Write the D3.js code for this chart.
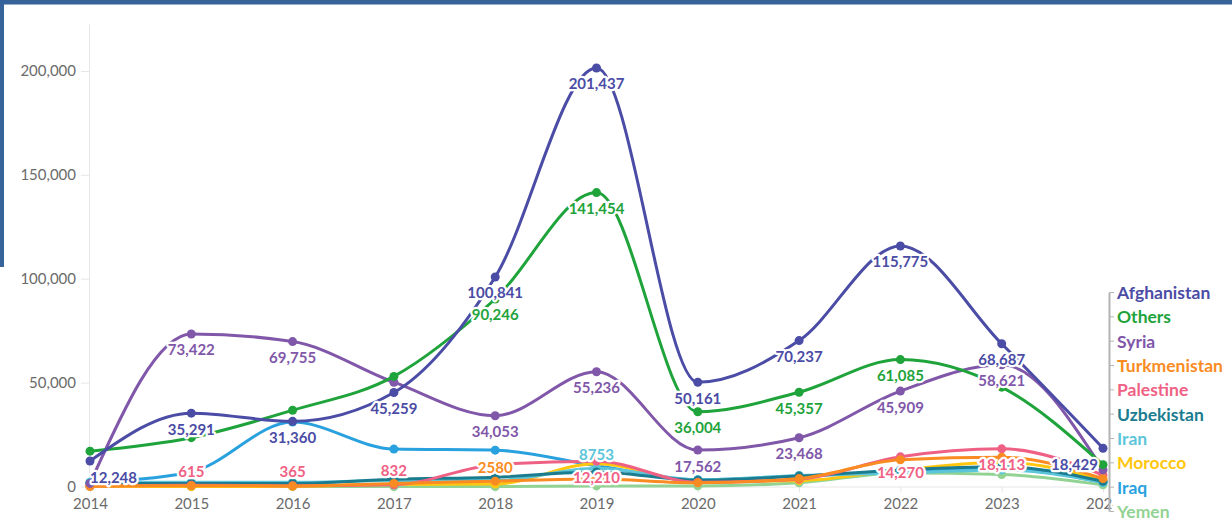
<!DOCTYPE html>
<html>
<head>
<meta charset="utf-8">
<script src="https://cdn.jsdelivr.net/npm/d3@7"></script>
<style>
  html, body { margin: 0; padding: 0; background: #fff; }
  svg { display: block; font-family: Lato, "Open Sans", sans-serif; }
</style>
</head>
<body>
<svg id="chart" width="1232" height="521"></svg>
<script>
// Yearly figures per nationality
const years = [2014, 2015, 2016, 2017, 2018, 2019, 2020, 2021, 2022, 2023, 2024];

const afghanistan  = [12248, 35291, 31360, 45259, 100841, 201437, 50161, 70237, 115775, 68687, 18429];
const others       = [17000, 23500, 36700, 53000, 90246, 141454, 36004, 45357, 61085, 47800, 10500];
const syria        = [1500, 73422, 69755, 50200, 34053, 55236, 17562, 23468, 45909, 58621, 8000];
const turkmenistan = [300, 400, 300, 1500, 2580, 3600, 1800, 3800, 12900, 14100, 3800];
const palestine    = [200, 615, 365, 832, 10500, 12210, 2000, 3500, 14270, 18113, 5500];
const uzbekistan   = [1500, 1500, 1500, 3500, 4500, 7000, 3000, 5000, 8000, 9500, 2500];
const iran         = [2000, 2000, 2000, 2900, 2900, 8753, 3200, 5300, 6500, 8000, 2000];
const morocco      = [0, 0, 100, 1000, 1200, 11000, 2500, 2800, 8000, 11700, 3000];
const iraq         = [2000, 7000, 31000, 18000, 17500, 10000, 3300, 5000, 6800, 8500, 2000];
const yemen        = [0, 0, 0, 0, 0, 300, 300, 1800, 6500, 5800, 800];

const seriesNames  = ["Afghanistan", "Others", "Syria", "Turkmenistan", "Palestine",
                      "Uzbekistan", "Iran", "Morocco", "Iraq", "Yemen"];
const seriesValues = [afghanistan, others, syria, turkmenistan, palestine,
                      uzbekistan, iran, morocco, iraq, yemen];

// Years whose value is written next to the point
const labelledYears = {
  Afghanistan: years,
  Others: [2018, 2019, 2020, 2021, 2022],
  Syria: [2015, 2016, 2018, 2019, 2020, 2021, 2022, 2023],
  Palestine: [2015, 2016, 2017, 2019, 2022, 2023],
  Turkmenistan: [2018],
  Iran: [2019]
};
// Order in which value labels are laid down
const labelOrder = ["Afghanistan", "Others", "Syria", "Palestine", "Turkmenistan", "Iran"];

const yTicks = [0, 50000, 100000, 150000, 200000];

const palette = {
  Afghanistan: "#4b4ca5", Others: "#1fa33b", Syria: "#8057a9", Turkmenistan: "#fa8b22",
  Palestine: "#ef6184", Uzbekistan: "#1b7c8f", Iran: "#5cc5da", Morocco: "#ffc60f",
  Iraq: "#29a1de", Yemen: "#92d393"
};

const svg = d3.select("#chart");

// page frame
svg.append("rect").attr("x", 0).attr("y", 0).attr("width", 1232).attr("height", 4.5).attr("fill", "#35639a");
svg.append("rect").attr("x", 0).attr("y", 0).attr("width", 4).attr("height", 267).attr("fill", "#35639a");

const x = d3.scaleLinear().domain([2014, 2024]).range([90, 1103]);
const y = d3.scaleLinear().domain([0, 222600]).range([486.5, 24]);

// axes
const yAxis = svg.append("g")
  .attr("transform", "translate(89,0)")
  .call(d3.axisLeft(y).tickValues(yTicks).tickFormat(d3.format(",")).tickSize(8).tickSizeOuter(0).tickPadding(5));
yAxis.select(".domain").attr("stroke", "#e6e6e6");
yAxis.selectAll(".tick line").attr("stroke", "#e6e6e6");
yAxis.selectAll(".tick text").attr("fill", "#6b6b6b").style("font-size", "15px").style("font-family", "Lato, sans-serif");

const xAxis = svg.append("g")
  .attr("transform", "translate(0,486.5)")
  .call(d3.axisBottom(x).tickValues(years).tickFormat(d3.format("d")).tickSize(6).tickSizeOuter(0).tickPadding(6));
xAxis.select(".domain").attr("stroke", "#e6e6e6");
xAxis.selectAll(".tick line").attr("stroke", "#e6e6e6");
xAxis.selectAll(".tick text").attr("fill", "#6b6b6b").style("font-size", "15px").style("font-family", "Lato, sans-serif");

// lines and points, first series drawn last so it sits on top
const line = d3.line()
  .x(d => x(d[0]))
  .y(d => y(d[1]))
  .curve(d3.curveMonotoneX);

const seriesData = seriesNames.map((name, i) => ({
  name,
  points: years.map((yr, j) => [yr, seriesValues[i][j]])
}));

const seriesG = svg.append("g")
  .selectAll("g")
  .data(seriesData.slice().reverse())
  .join("g");

seriesG.append("path")
  .attr("d", d => line(d.points))
  .attr("fill", "none")
  .attr("stroke", d => palette[d.name])
  .attr("stroke-width", 3)
  .attr("stroke-linejoin", "round")
  .attr("stroke-linecap", "round");

seriesG.selectAll("circle")
  .data(d => d.points.map(p => ({ name: d.name, p })))
  .join("circle")
  .attr("cx", d => x(d.p[0]))
  .attr("cy", d => y(d.p[1]))
  .attr("r", 4.5)
  .attr("fill", d => palette[d.name]);

// value labels
const fmtValue = v => v >= 10000 ? d3.format(",")(v) : String(v);
const labelG = svg.append("g");
const baseY = y(0);

labelOrder.forEach(name => {
  const vals = seriesValues[seriesNames.indexOf(name)];
  labelledYears[name].forEach(yr => {
    const v = vals[years.indexOf(yr)];
    const px = x(yr), py = y(v);
    let ty = py + 15.5;
    if (ty > baseY - 8) ty = py - 14.5;
    const t = labelG.append("text")
      .attr("x", px)
      .attr("y", ty)
      .attr("text-anchor", "middle")
      .attr("dominant-baseline", "central")
      .attr("fill", palette[name])
      .attr("stroke", "#fff")
      .attr("stroke-width", 4.5)
      .attr("stroke-linejoin", "round")
      .attr("paint-order", "stroke")
      .style("font-size", "15px")
      .style("font-weight", "700")
      .text(fmtValue(v));
    const w = t.node().getComputedTextLength();
    const lo = x.range()[0], hi = x.range()[1] - 5;
    if (px - w / 2 < lo) t.attr("x", lo + w / 2);
    if (px + w / 2 > hi) t.attr("x", hi - w / 2);
  });
});

// legend
const legend = svg.append("g");
legend.append("rect").attr("x", 1112.5).attr("y", 280).attr("width", 120).attr("height", 241).attr("fill", "#fff");
const legendY = d3.scalePoint().domain(seriesNames).range([292.5, 511.5]);
legend.append("line")
  .attr("x1", 1109.5).attr("x2", 1109.5)
  .attr("y1", legendY(seriesNames[0])).attr("y2", legendY(seriesNames[seriesNames.length - 1]))
  .attr("stroke", "#b3b3b3").attr("stroke-width", 2);
legend.selectAll("line.tick")
  .data(seriesNames)
  .join("line")
  .attr("class", "tick")
  .attr("x1", 1109.5).attr("x2", 1114)
  .attr("y1", d => legendY(d)).attr("y2", d => legendY(d))
  .attr("stroke", "#b3b3b3").attr("stroke-width", 1);
legend.selectAll("text")
  .data(seriesNames)
  .join("text")
  .attr("x", 1117)
  .attr("y", d => legendY(d))
  .attr("dominant-baseline", "central")
  .attr("fill", d => palette[d])
  .style("font-size", "17.5px")
  .style("font-weight", "700")
  .text(d => d);
</script>
</body>
</html>
